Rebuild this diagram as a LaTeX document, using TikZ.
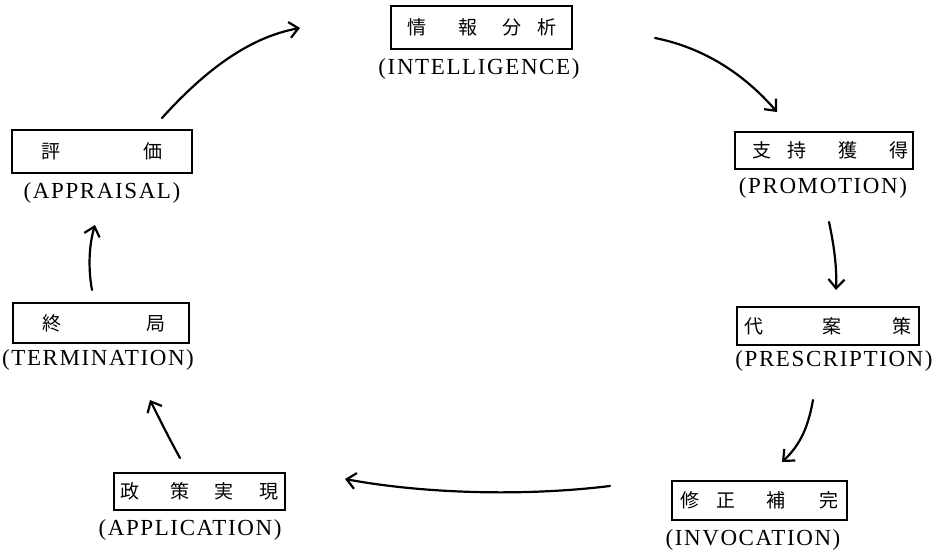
\documentclass[tikz,border=0pt]{standalone}
\usepackage{fontspec}
\setmainfont{Liberation Serif}
\newfontfamily\cjk{Noto Sans CJK JP}
\newfontfamily\lblfont[LetterSpace=7]{Liberation Serif}
\usetikzlibrary{arrows.meta}
\tikzset{
  stagebox/.style={draw, line width=1.8pt, rectangle, inner sep=0pt, font=\cjk\fontsize{19}{19}\selectfont},
  lbl/.style={inner sep=0pt, font=\lblfont\fontsize{23}{23}\selectfont},
  arr/.style={line width=2.2pt, line cap=round, -{Straight Barb[length=9pt,width=16pt,line width=2.2pt]}}
}
\begin{document}
\begin{tikzpicture}[x=1pt,y=-1pt]
\useasboundingbox (0,0) rectangle (937,553);
% boxes
\node[stagebox, minimum width=181pt, minimum height=43pt] (int) at (481.5,27.5) {情\hspace{33pt}報\hspace{24pt}分\hspace{16pt}析\hspace{13pt}};
\node[lbl] (intl) at (479,69) {(INTELLIGENCE)};
\node[stagebox, minimum width=180pt, minimum height=43pt] (app) at (102,151.5) {評\hspace{84pt}価\hspace{11pt}};
\node[lbl] (appl) at (102,193) {(APPRAISAL)};
\node[stagebox, minimum width=178pt, minimum height=37pt] (pro) at (824,150.5) {\hspace{13pt}支\hspace{16pt}持\hspace{32pt}獲\hspace{32pt}得};
\node[lbl] (prol) at (823,188) {(PROMOTION)};
\node[stagebox, minimum width=176pt, minimum height=40pt] (ter) at (101,323) {\hspace{6pt}終\hspace{85pt}局};
\node[lbl] (terl) at (98,360) {(TERMINATION)};
\node[stagebox, minimum width=182pt, minimum height=38pt] (pre) at (828,326) {代\hspace{59pt}案\hspace{52pt}策};
\node[lbl] (prel) at (834,361) {(PRESCRIPTION)};
\node[stagebox, minimum width=171pt, minimum height=37pt] (apl) at (199.5,491.5) {政\hspace{31pt}策\hspace{25pt}実\hspace{26pt}現\hspace{6pt}};
\node[lbl] (apll) at (190,530) {(APPLICATION)};
\node[stagebox, minimum width=175pt, minimum height=39pt] (inv) at (759.5,500.5) {修\hspace{17pt}正\hspace{31pt}補\hspace{34pt}完\hspace{8pt}};
\node[lbl] (invl) at (753,540) {(INVOCATION)};
% arrow ends
\coordinate (a1s) at (162,118); \coordinate (a1e) at (300,28);
\coordinate (a2s) at (655,38);  \coordinate (a2e) at (777,112);
\coordinate (a3s) at (829,222); \coordinate (a3e) at (836,290);
\coordinate (a4s) at (813,400); \coordinate (a4e) at (782,462);
\coordinate (a5s) at (610,486); \coordinate (a5e) at (345,479);
\coordinate (a6s) at (180,458); \coordinate (a6e) at (150,400);
\coordinate (a7s) at (92,290);  \coordinate (a7e) at (95,225);
% arrows
\draw[arr] (a1s) .. controls (200,76) and (245,38) .. (a1e);
\draw[arr] (a2s) .. controls (705,48) and (745,75) .. (a2e);
\draw[arr] (a3s) .. controls (834,245) and (837,268) .. (a3e);
\draw[arr] (a4s) .. controls (808,428) and (800,445) .. (a4e);
\draw[arr] (a5s) .. controls (520,497) and (420,493) .. (a5e);
\draw[arr] (a6s) .. controls (170,440) and (160,420) .. (a6e);
\draw[arr] (a7s) .. controls (88,268) and (89,245) .. (a7e);
\end{tikzpicture}
\end{document}
